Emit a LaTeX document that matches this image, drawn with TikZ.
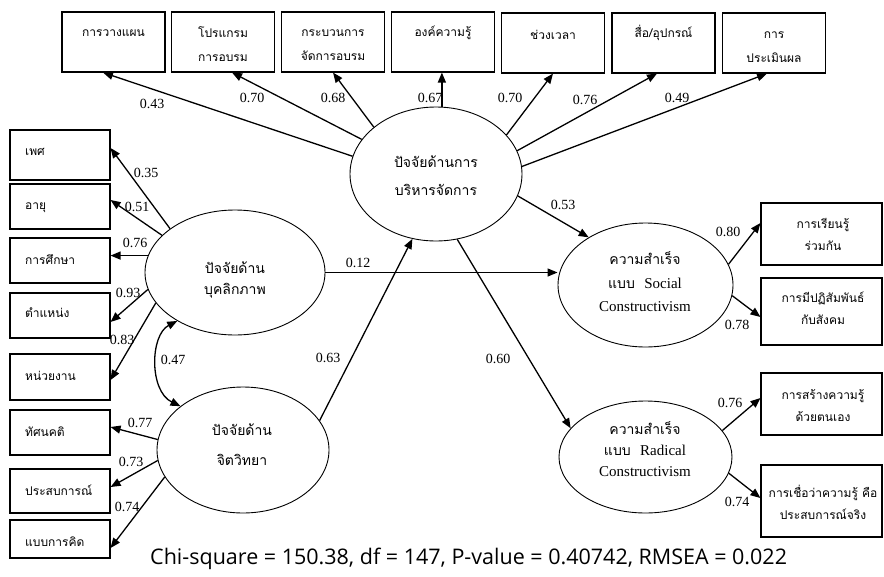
\documentclass[tikz,border=0pt]{standalone}
\usepackage{fontspec}
\setmainfont{Liberation Serif}
\newfontfamily\thaifont[Script=Thai]{Loma}
\newfontfamily\statfont{Open Sans}
\usetikzlibrary{arrows.meta,shapes.geometric}
\newcommand{\entext}[1]{{\rmfamily\fontsize{15}{22}\selectfont #1}}
\begin{document}
\begin{tikzpicture}[x=1pt,y=-1pt,
  tbox/.style={draw,line width=1.1pt,minimum width=103pt,minimum height=60pt,inner sep=0pt},
  lbox/.style={draw,line width=1.1pt,minimum width=100pt,inner sep=0pt},
  rbox/.style={draw,line width=1.1pt,minimum width=121pt,inner sep=0pt},
  ell/.style={draw,ellipse,line width=0.9pt,inner sep=0pt},
  arr/.style={-{Triangle[length=10pt,width=8pt]},line width=1.3pt},
  darr/.style={{Triangle[length=10pt,width=8pt]}-{Triangle[length=10pt,width=8pt]},line width=1.3pt},
  num/.style={font=\fontsize{14}{14}\selectfont,inner sep=0pt},
  th/.style={font=\thaifont\fontsize{12}{24}\selectfont,inner sep=0pt,align=center},
  thr/.style={font=\thaifont\fontsize{12}{22}\selectfont,inner sep=0pt,align=center},
  thl/.style={font=\thaifont\fontsize{12}{13}\selectfont,inner sep=0pt,anchor=west},
  eth/.style={font=\thaifont\fontsize{14}{22}\selectfont,inner sep=0pt,align=center}
]
\useasboundingbox (0,0) rectangle (884,576);

% top boxes
\node[tbox] (t1) at (113.5,42) {};
\node[tbox] (t2) at (223,42) {};
\node[tbox] (t3) at (333,42) {};
\node[tbox] (t4) at (443,42) {};
\node[tbox] (t5) at (553,43) {};
\node[tbox] (t6) at (663.5,43) {};
\node[tbox] (t7) at (774,43) {};
\node[th] (t1x) at (113.5,33) {การวางแผน};
\node[th] (t2x) at (223,44) {โปรแกรม\\การอบรม};
\node[th] (t3x) at (333,45) {กระบวนการ\\จัดการอบรม};
\node[th] (t4x) at (443,33) {องค์ความรู้};
\node[th] (t5x) at (553,35) {ช่วงเวลา};
\node[th] (t6x) at (663.5,33) {สื่อ/อุปกรณ์};
\node[th] (t7x) at (774,47) {การ\\ประเมินผล};

% left boxes
\node[lbox,minimum height=50pt] (b1) at (60,155) {};
\node[lbox,minimum height=45pt] (b2) at (60,206.5) {};
\node[lbox,minimum height=45pt] (b3) at (60,260.5) {};
\node[lbox,minimum height=45pt] (b4) at (60,315.5) {};
\node[lbox,minimum height=46pt] (b5) at (60,377) {};
\node[lbox,minimum height=45pt] (b6) at (60,432.5) {};
\node[lbox,minimum height=44pt] (b7) at (60,491) {};
\node[lbox,minimum height=38pt] (b8) at (60,539) {};
\node[thl] (b1x) at (25,152) {เพศ};
\node[thl] (b2x) at (25,208) {อายุ};
\node[thl] (b3x) at (25,260) {การศึกษา};
\node[thl] (b4x) at (25,313) {ตำแหน่ง};
\node[thl] (b5x) at (25,376) {หน่วยงาน};
\node[thl] (b6x) at (25,432) {ทัศนคติ};
\node[thl] (b7x) at (25,490) {ประสบการณ์};
\node[thl] (b8x) at (25,542) {แบบการคิด};

% right boxes
\node[rbox,minimum height=62pt] (r1) at (821.5,234) {};
\node[rbox,minimum height=67pt] (r2) at (821.5,311.5) {};
\node[rbox,minimum height=62pt] (r3) at (821.5,404) {};
\node[rbox,minimum height=72pt] (r4) at (821.5,501) {};
\node[thr] (r1x) at (823,234.5) {การเรียนรู้\\ร่วมกัน};
\node[thr] (r2x) at (823,308) {การมีปฏิสัมพันธ์\\กับสังคม};
\node[thr] (r3x) at (823,406) {การสร้างความรู้\\ด้วยตนเอง};
\node[thr] (r4x) at (823,502.5) {การเชื่อว่าความรู้ คือ\\ประสบการณ์จริง};

% ellipses
\node[ell,minimum width=172pt,minimum height=134pt] (mgmt) at (436,174) {};
\node[ell,minimum width=180pt,minimum height=125pt] (pers) at (235,272.5) {};
\node[ell,minimum width=172pt,minimum height=126pt] (psych) at (243,450) {};
\node[ell,minimum width=175pt,minimum height=124pt] (social) at (645.5,285) {};
\node[ell,minimum width=173pt,minimum height=112pt] (radical) at (645.5,457) {};
\node[eth,font=\thaifont\fontsize{14}{28}\selectfont] (mgmtx) at (436,176) {ปัจจัยด้านการ\\บริหารจัดการ};
\node[eth,font=\thaifont\fontsize{14}{21}\selectfont] (persx) at (235,280) {ปัจจัยด้าน\\บุคลิกภาพ};
\node[eth,font=\thaifont\fontsize{14}{30}\selectfont] (psychx) at (242,445) {ปัจจัยด้าน\\จิตวิทยา};
\node[eth,font=\thaifont\fontsize{14}{23.5}\selectfont] (socialx) at (645,282) {ความสำเร็จ\\แบบ\ \ \entext{Social}\\\entext{Constructivism}};
\node[eth,font=\thaifont\fontsize{14}{21}\selectfont] (radicalx) at (645,449) {ความสำเร็จ\\แบบ\ \ \entext{Radical}\\\entext{Constructivism}};

% top arrows
\draw[arr] (mgmt.168) -- ([xshift=-10.5pt]t1.south);
\draw[arr] (mgmt.155) -- ([xshift=9pt]t2.south);
\draw[arr] (mgmt.143) -- (t3.south);
\draw[arr] (mgmt.85) -- (mgmt.85 |- t4.south);
\draw[arr] (mgmt.29) -- (t5.south);
\draw[arr] (mgmt.16) -- ([xshift=-6.5pt]t6.south);
\draw[arr] (mgmt.5) -- ([xshift=-7pt]t7.south);

% personal
\draw[arr] (pers.146) -- ([yshift=7pt]b1.east);
\draw[arr] (pers.153) -- ([yshift=6.5pt]b2.east);
\draw[arr] (pers.169) -- (pers.169 -| b3.east);
\draw[arr] (pers.191) -- ([yshift=-6.5pt]b4.east);
\draw[arr] (pers.201) -- ([yshift=-3pt]b5.east);

% psych
\draw[arr] (psych.173) -- ([yshift=5.5pt]b6.east);
\draw[arr] (psych.187) -- ([yshift=4pt]b7.east);
\draw[arr] (psych.199) -- ([yshift=-9pt]b8.east);

% correlation
\draw[darr] (pers.220) .. controls (150,335) and (149,391) .. (psych.145);

% structural
\draw[arr] (psych.21) -- (mgmt.250);
\draw[arr] (pers.east) -- (pers.east -| social.west);
\draw[arr] (mgmt.345) -- (social.140);
\draw[arr] (mgmt.288) -- (radical.159);
\draw[arr] (social.14) -- ([yshift=11pt]r1.west);
\draw[arr] (social.353) -- ([yshift=-5.5pt]r2.west);
\draw[arr] (radical.19) -- ([yshift=6pt]r3.west);
\draw[arr] (radical.349) -- ([yshift=3pt]r4.west);

% labels
\node[num] (l1) at (152,104) {0.43};
\node[num] (l2) at (252,98) {0.70};
\node[num] (l3) at (333,98) {0.68};
\node[num] (l4) at (430,98) {0.67};
\node[num] (l5) at (510,98) {0.70};
\node[num] (l6) at (585,100) {0.76};
\node[num] (l7) at (677,98) {0.49};
\node[num] (l8) at (146,173) {0.35};
\node[num] (l9) at (137,207) {0.51};
\node[num] (l10) at (135,243) {0.76};
\node[num] (l11) at (128,293) {0.93};
\node[num] (l12) at (122,340) {0.83};
\node[num] (l13) at (173,360) {0.47};
\node[num] (l14) at (140,423) {0.77};
\node[num] (l15) at (131,462) {0.73};
\node[num] (l16) at (127,507) {0.74};
\node[num] (l17) at (328,358) {0.63};
\node[num] (l18) at (498,359) {0.60};
\node[num] (l19) at (358,263) {0.12};
\node[num] (l20) at (563,205) {0.53};
\node[num] (l21) at (728,232) {0.80};
\node[num] (l22) at (737,325) {0.78};
\node[num] (l23) at (730,403) {0.76};
\node[num] (l24) at (737,502) {0.74};

\node[font=\statfont\fontsize{21.5}{24}\selectfont,anchor=base west,inner sep=0pt] (stat) at (150,564) {Chi-square = 150.38, df = 147, P-value = 0.40742, RMSEA = 0.022};
\end{tikzpicture}
\end{document}
